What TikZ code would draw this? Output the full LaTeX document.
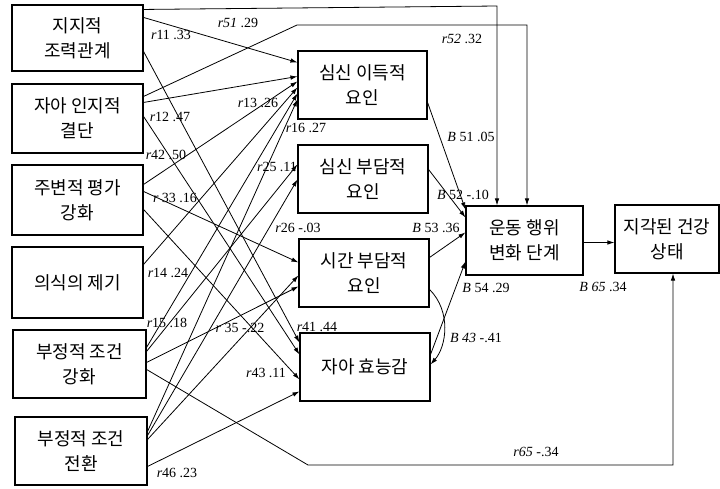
\documentclass[tikz,border=0pt]{standalone}
\usepackage{fontspec}
\setmainfont{Liberation Serif}
\newfontfamily\kr{Noto Sans CJK KR}
\usetikzlibrary{arrows.meta}
\begin{document}
\begin{tikzpicture}[x=1pt,y=-1pt,
  box/.style={draw,line width=1.1pt,rectangle,inner sep=0pt,align=center,font=\kr\fontsize{18}{25}\selectfont},
  lw/.style={box,minimum width=131pt,minimum height=68pt},
  mw/.style={box,minimum width=130pt,minimum height=68pt},
  arr/.style={-{Latex[length=7pt,width=4.5pt]},line width=0.8pt},
  ln/.style={line width=0.8pt},
  lbl/.style={font=\fontsize{14}{14}\selectfont,inner sep=0pt}]
\useasboundingbox[fill=white] (0,0) rectangle (720,488);
% left boxes
\node[lw,minimum height=66pt] (L1) at (77.5,38) {지지적\\조력관계};
\node[lw,minimum height=69pt] (L2) at (77.5,118.5) {자아 인지적\\결단};
\node[lw,minimum height=70pt] (L3) at (77.5,200) {주변적 평가\\강화};
\node[lw,minimum height=71pt] (L4) at (77.5,282.5) {의식의 제기};
\node[lw,minimum width=133pt] (L5) at (79.5,364) {부정적 조건\\강화};
\node[lw,minimum width=132pt] (L6) at (81,451) {부정적 조건\\전환};
% middle boxes
\node[mw,minimum width=129pt] (M1) at (362.5,85) {심신 이득적\\요인};
\node[mw] (M2) at (363,179) {심신 부담적\\요인};
\node[mw] (M3) at (364,273) {시간 부담적\\요인};
\node[mw] (M4) at (365,367) {자아 효능감};
% right boxes
\node[box,minimum width=117pt,minimum height=69pt] (R1) at (524.5,240.5) {운동 행위\\변화 단계};
\node[box,minimum width=104pt,minimum height=68pt] (R2) at (667,239) {지각된 건강\\상태};
% bend coordinates
\coordinate (c51) at (497,6);
\coordinate (c52a) at (297,25);
\coordinate (c52b) at (527,25);
\coordinate (c65a) at (308,465);
\coordinate (c65b) at (673,465);
% to M1
\draw[arr] ([yshift=-13pt]L1.north east) -- ([yshift=-12pt]M1.north west);
\draw[arr] ([yshift=-19pt]L2.north east) -- ([yshift=-26pt]M1.north west);
\draw[arr] ([yshift=-20pt]L3.north east) -- ([yshift=-31pt]M1.north west);
\draw[arr] ([yshift=-18pt]L4.north east) -- ([yshift=-37pt]M1.north west);
\draw[arr] ([yshift=-18pt]L5.north east) -- ([yshift=-43pt]M1.north west);
\draw[arr] ([yshift=-15pt]L6.north east) -- ([yshift=-49pt]M1.north west);
% to M2
\draw[arr] ([yshift=-22pt]L5.north east) -- ([yshift=-20pt]M2.north west);
\draw[arr] ([yshift=-19pt]L6.north east) -- ([yshift=-35pt]M2.north west);
% to M3
\draw[arr] ([yshift=-27pt]L3.north east) -- ([yshift=-24pt]M3.north west);
\draw[arr] ([yshift=-33pt]L5.north east) -- ([yshift=-48pt]M3.north west);
\draw[arr] ([yshift=-23pt]L6.north east) -- ([yshift=-37pt]M3.north west);
% to M4
\draw[arr] ([yshift=-47pt]L1.north east) -- ([yshift=-10pt]M4.north west);
\draw[arr] ([yshift=-33pt]L2.north east) -- ([yshift=-22pt]M4.north west);
\draw[arr] ([yshift=-45pt]L3.north east) -- ([yshift=-47pt]M4.north west);
\draw[arr] ([yshift=-50pt]L6.north east) -- ([yshift=-59pt]M4.north west);
% to R1 from left
\draw[arr] ([yshift=-5pt]L1.north east) -- (c51) -- (c51 |- R1.north);
\draw[arr] ([yshift=-13pt]L2.north east) -- (c52a) -- (c52b) -- (c52b |- R1.north);
% to R1 from middle
\draw[arr] ([yshift=-52pt]M1.north east) -- ([yshift=-4pt]R1.north west);
\draw[arr] ([yshift=-25pt]M2.north east) -- ([yshift=-12pt]R1.north west);
\draw[arr] ([yshift=-19pt]M3.north east) -- ([yshift=-27pt]R1.north west);
\draw[arr] ([yshift=-22pt]M4.north east) -- ([yshift=-56pt]R1.north west);
% M3 - M4 curve
\draw[arr] ([yshift=-51pt]M3.north east) .. controls +(22,22) and +(16,-18) .. ([yshift=-32pt]M4.north east);
% to R2
\draw[arr] ([yshift=-2pt]R1.east) -- ([yshift=-3.5pt]R2.west);
\draw[arr] ([yshift=-40pt]L5.north east) -- (c65a) -- (c65b) -- (c65b |- R2.south);
% labels
\node[lbl] (t51) at (238,23) {\textit{r51} .29};
\node[lbl] (t11) at (171,35) {\textit{r}11 .33};
\node[lbl] (t52) at (462,39) {\textit{r52} .32};
\node[lbl] (t13) at (258,103) {\textit{r}13 .26};
\node[lbl] (t12) at (170,117) {\textit{r}12 .47};
\node[lbl] (t16) at (306,128) {\textit{r}16 .27};
\node[lbl] (t42) at (166,155) {\textit{r}42 .50};
\node[lbl] (t25) at (277,167) {\textit{r}25 .11};
\node[lbl] (t33) at (175,198) {\textit{r} 33 .16};
\node[lbl] (t26) at (298,228) {\textit{r}26 -.03};
\node[lbl] (t14) at (168,273) {\textit{r}14 .24};
\node[lbl] (t15) at (167,323) {\textit{r}15 .18};
\node[lbl] (t35) at (240,328) {\textit{r} 35 -.22};
\node[lbl] (t41) at (317,327) {\textit{r}41 .44};
\node[lbl] (t43) at (266,373) {\textit{r}43 .11};
\node[lbl] (t46) at (177,473) {\textit{r}46 .23};
\node[lbl] (b51) at (471,137) {\textit{B} 51 .05};
\node[lbl] (b52) at (463,195) {\textit{B} 52 -.10};
\node[lbl] (b53) at (436,228) {\textit{B} 53 .36};
\node[lbl] (b54) at (486,288) {\textit{B} 54 .29};
\node[lbl] (b43) at (476,338) {\textit{B 43} -.41};
\node[lbl] (b65) at (603,287) {\textit{B 65} .34};
\node[lbl] (t65) at (536,452) {\textit{r65} -.34};
\end{tikzpicture}
\end{document}
